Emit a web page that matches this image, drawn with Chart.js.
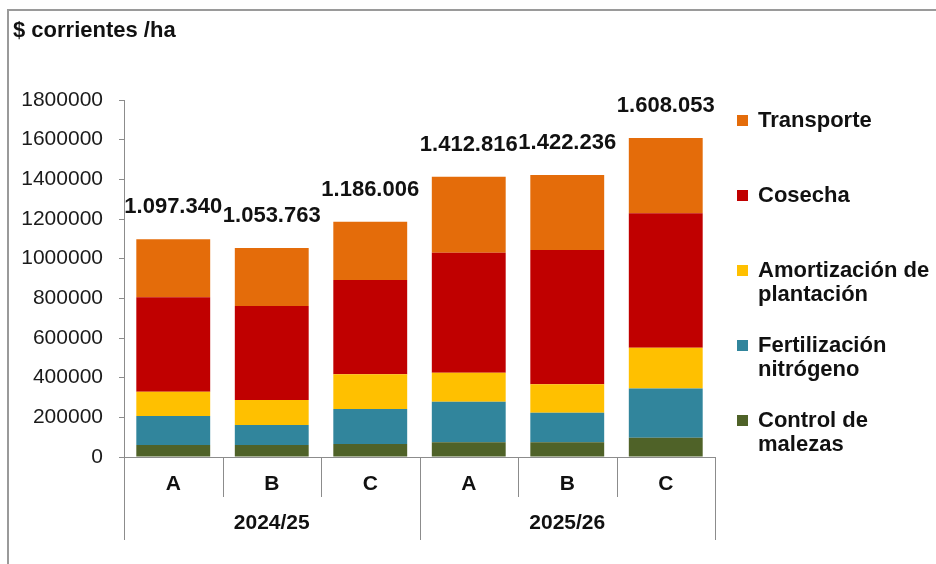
<!DOCTYPE html>
<html>
<head>
<meta charset="utf-8">
<script src="https://cdn.jsdelivr.net/npm/chart.js@4.4.1/dist/chart.umd.min.js"></script>
<style>
  html, body { margin: 0; padding: 0; background: #ffffff; }
  #wrap { width: 936px; height: 564px; position: relative; }
</style>
</head>
<body>
<div id="wrap"><canvas id="costChart" width="936" height="564"></canvas></div>
<script>
// Data ($ corrientes / ha)
const categories = ['A', 'B', 'C', 'A', 'B', 'C'];
const years = ['2024/25', '2025/26'];
const seriesNames = ['Control de malezas', 'Fertilización nitrógeno', 'Amortización de plantación', 'Cosecha', 'Transporte'];
const seriesColors = ['#4F6228', '#31859C', '#FFC000', '#C00000', '#E46C0A'];

const controlMalezas = [60000, 60000, 66000, 74000, 74000, 97000];
const fertilizacion  = [147000, 101000, 176000, 205000, 149000, 249000];
const amortizacion   = [122000, 126000, 175000, 146000, 144000, 205000];
const cosecha        = [476000, 474000, 476000, 605000, 677000, 678000];
const transporte     = [292340, 292763, 293006, 382816, 378236, 379053];
const totals         = [1097340, 1053763, 1186006, 1412816, 1422236, 1608053];

const yTicks = [0, 200000, 400000, 600000, 800000, 1000000, 1200000, 1400000, 1600000, 1800000];

const FONT = "'Liberation Sans', Arial, sans-serif";
const AXIS_GREY = '#8c8c8c';

// Format with dots as thousand separators
const fmtDots = (n) => String(n).replace(/\B(?=(\d{3})+(?!\d))/g, '.');

function wrapText(ctx, text, maxW) {
    const words = text.split(' ');
    const lines = [];
    let cur = '';
    words.forEach(w => {
        const test = cur ? cur + ' ' + w : w;
        if (ctx.measureText(test).width > maxW && cur) {
            lines.push(cur);
            cur = w;
        } else {
            cur = test;
        }
    });
    if (cur) lines.push(cur);
    return lines;
}

// Totals above each stack
const totalsPlugin = {
    id: 'totals',
    afterDatasetsDraw(chart) {
        const ctx = chart.ctx;
        const y = chart.scales.y;
        const meta = chart.getDatasetMeta(chart.data.datasets.length - 1);
        ctx.save();
        ctx.font = 'bold 22px ' + FONT;
        ctx.fillStyle = '#111111';
        ctx.textAlign = 'center';
        ctx.textBaseline = 'middle';
        totals.forEach((t, i) => {
            const bar = meta.data[i];
            ctx.fillText(fmtDots(t), bar.x, y.getPixelForValue(t) - 32);
        });
        ctx.restore();
    }
};

// Frame, title, grouped x axis and legend
const decorPlugin = {
    id: 'decor',
    afterDraw(chart) {
        const ctx = chart.ctx;
        const x = chart.scales.x;
        const area = chart.chartArea;
        ctx.save();

        // outer frame (cut off at right/bottom like the original)
        ctx.strokeStyle = '#9a9a9a';
        ctx.lineWidth = 2;
        ctx.strokeRect(8, 10, 1200, 1200);

        // title
        ctx.fillStyle = '#111111';
        ctx.font = 'bold 22px ' + FONT;
        ctx.textAlign = 'left';
        ctx.textBaseline = 'middle';
        ctx.fillText('$ corrientes /ha', 13, 31);

        // category separators
        const n = categories.length;
        const w = (x.right - x.left) / n;
        const groupSize = n / years.length;
        ctx.strokeStyle = AXIS_GREY;
        ctx.lineWidth = 1;
        for (let k = 0; k <= n; k++) {
            const px = Math.round(x.left + k * w) + 0.5;
            const long = k % groupSize === 0;
            ctx.beginPath();
            ctx.moveTo(px, area.bottom);
            ctx.lineTo(px, long ? area.bottom + 83 : area.bottom + 40);
            ctx.stroke();
        }

        // year labels
        ctx.fillStyle = '#111111';
        ctx.font = 'bold 21px ' + FONT;
        ctx.textAlign = 'center';
        years.forEach((yr, g) => {
            const cx = x.left + (g + 0.5) * groupSize * w;
            ctx.fillText(yr, cx, area.bottom + 66);
        });

        // legend (top to bottom = last series to first)
        ctx.font = 'bold 22px ' + FONT;
        ctx.textAlign = 'left';
        let ly = 121;
        for (let i = seriesNames.length - 1; i >= 0; i--) {
            ctx.fillStyle = seriesColors[i];
            ctx.fillRect(737, ly - 6, 11, 11);
            ctx.fillStyle = '#111111';
            const lines = wrapText(ctx, seriesNames[i], 180);
            lines.forEach((ln, j) => ctx.fillText(ln, 758, ly + j * 24));
            ly += 75;
        }
        ctx.restore();
    }
};

const datasets = [controlMalezas, fertilizacion, amortizacion, cosecha, transporte].map((vals, i) => ({
    label: seriesNames[i],
    data: vals,
    backgroundColor: seriesColors[i],
    borderWidth: 0,
    barPercentage: 0.75,
    categoryPercentage: 1.0
}));

new Chart(document.getElementById('costChart'), {
    type: 'bar',
    data: { labels: categories, datasets: datasets },
    options: {
        responsive: false,
        animation: false,
        layout: { padding: { top: 100, right: 221, bottom: 0, left: 0 } },
        plugins: {
            legend: { display: false },
            title: { display: false },
            tooltip: { enabled: false }
        },
        scales: {
            x: {
                stacked: true,
                grid: { display: false, drawTicks: false },
                border: { display: true, color: AXIS_GREY, width: 1 },
                ticks: {
                    color: '#111111',
                    font: { family: FONT, size: 21, weight: 'bold' },
                    padding: 15,
                    maxRotation: 0
                },
                afterFit: (scale) => { scale.height = 107; }
            },
            y: {
                stacked: true,
                min: 0,
                max: 1800000,
                afterBuildTicks: (scale) => { scale.ticks = yTicks.map(v => ({ value: v })); },
                grid: { drawOnChartArea: false, drawTicks: true, tickLength: 5, color: AXIS_GREY },
                border: { display: true, color: AXIS_GREY, width: 1 },
                ticks: {
                    color: '#1a1a1a',
                    font: { family: FONT, size: 21 },
                    padding: 16,
                    callback: (v) => String(v)
                },
                afterFit: (scale) => { scale.width = 124; }
            }
        }
    },
    plugins: [totalsPlugin, decorPlugin]
});
</script>
</body>
</html>
